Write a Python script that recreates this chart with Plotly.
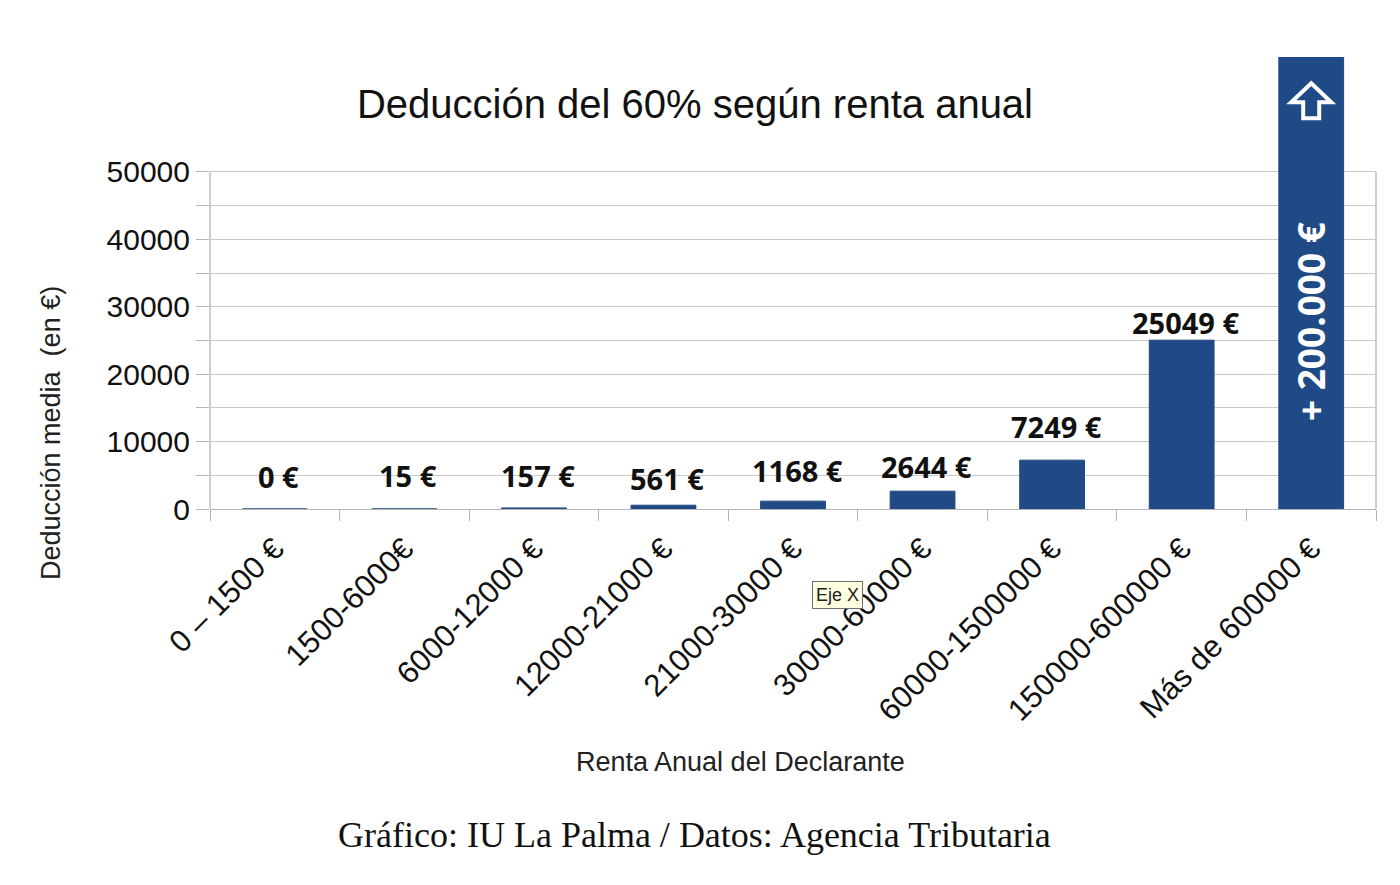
import plotly.graph_objects as go

# ---------------- data ----------------
categories = ["0 – 1500 €", "1500-6000€", "6000-12000 €", "12000-21000 €", "21000-30000 €",
              "30000-60000 €", "60000-1500000 €", "150000-600000 €", "Más de 600000 €"]
deduccion = [0, 15, 157, 561, 1168, 2644, 7249, 25049, 200000]
value_labels = ["0 €", "15 €", "157 €", "561 €", "1168 €", "2644 €", "7249 €", "25049 €", None]
last_label = "+ 200.000 €"
y_tickvals = [0, 10000, 20000, 30000, 40000, 50000]
y_ticktext = [str(v) for v in y_tickvals]
y_minorvals = [5000, 15000, 25000, 35000, 45000]

title_text = "Deducción del 60% según renta anual"
x_title = "Renta Anual del Declarante"
y_title = "Deducción media  (en €)"
footer = "Gráfico: IU La Palma / Datos: Agencia Tributaria"

# ---------------- style ----------------
BAR = "#1F4A86"
GRID = "#C9C9C9"
AXIS = "#B5B5B5"
label_offsets = [33, 33, 32, 27, 31, 25, 34, 18]

fig = go.Figure()
fig.add_trace(go.Bar(
    x=categories, y=deduccion,
    marker=dict(color=BAR, line=dict(color=BAR, width=1)),
    hoverinfo="skip",
))

annotations = []
for cat, val, lab, off in zip(categories, deduccion, value_labels, label_offsets):
    if lab is None:
        continue
    annotations.append(dict(
        x=cat, y=val, xref="x", yref="y", text=lab, showarrow=False,
        xanchor="center", yanchor="middle", yshift=off, xshift=4,
        font=dict(family="Open Sans", size=29, color="#111111", weight="bold"),
    ))

# rotated label inside the last bar
annotations.append(dict(
    x=categories[-1], y=0.414, xref="x", yref="paper", text=last_label, showarrow=False,
    xanchor="center", yanchor="middle",
    textangle=-90, font=dict(family="Open Sans", size=37, color="white", weight="bold"),
))
# axis titles and footer
annotations.append(dict(
    x=(740 - 210) / 1166, y=(509 - 762) / 452, xref="paper", yref="paper", text=x_title,
    showarrow=False, xanchor="center", yanchor="middle",
    font=dict(family="Liberation Sans", size=27, color="#222222"),
))
annotations.append(dict(
    x=(51 - 210) / 1166, y=(509 - 433) / 452, xref="paper", yref="paper", text=y_title,
    showarrow=False, xanchor="center", yanchor="middle",
    textangle=-90, font=dict(family="Liberation Sans", size=27, color="#222222"),
))
annotations.append(dict(
    x=(694 - 210) / 1166, y=(509 - 835) / 452, xref="paper", yref="paper", text=footer,
    showarrow=False, xanchor="center", yanchor="middle",
    font=dict(family="Liberation Serif", size=36, color="#111111"),
))
# tooltip box
annotations.append(dict(
    x=(838 - 210) / 1166, y=(509 - 595) / 452, xref="paper", yref="paper", text="Eje X",
    showarrow=False, xanchor="center", yanchor="middle",
    bgcolor="#FFFFE1", bordercolor="#6E6E6E", borderwidth=1, borderpad=3,
    font=dict(family="Liberation Sans", size=18, color="#222222"),
))

shapes = [
    dict(type="line", xref="x domain", yref="y", x0=0, x1=0, y0=0, y1=y_tickvals[-1],
         line=dict(color=AXIS, width=1.3), layer="below"),
    dict(type="line", xref="x domain", yref="y", x0=1, x1=1, y0=0, y1=y_tickvals[-1],
         line=dict(color=AXIS, width=1.3), layer="below"),
    # up-arrow icon on the last bar (pixel-sized decoration)
    dict(type="path", xref="x", yref="paper", xsizemode="pixel", ysizemode="pixel",
         xanchor=len(categories) - 1, yanchor=0.900,
         path="M 0 19 L 20 0 L 8 0 L 8 -16 L -8 -16 L -8 0 L -20 0 Z",
         line=dict(color="white", width=4), fillcolor=BAR, layer="above"),
]

fig.update_layout(
    width=1400, height=885,
    margin=dict(l=202, r=32, t=49, b=384),
    paper_bgcolor="white", plot_bgcolor="white",
    showlegend=False,
    bargap=0.5,
    title=dict(text=title_text, x=687 / 1400, xanchor="center", y=1 - 96 / 885, yanchor="middle",
               font=dict(family="Liberation Sans", size=40, color="#111111")),
    annotations=annotations,
    shapes=shapes,
    xaxis=dict(
        type="category", tickangle=-45, tickson="boundaries",
        ticks="outside", ticklen=11, tickcolor=AXIS,
        showline=True, linecolor=AXIS, linewidth=1.3,
        showgrid=False, ticklabelstandoff=8,
        tickfont=dict(family="Liberation Sans", size=31, color="#111111"),
    ),
    yaxis=dict(
        range=[0, 67060],
        tickmode="array", tickvals=y_tickvals, ticktext=y_ticktext,
        ticks="outside", ticklen=13, tickcolor=AXIS,
        showgrid=True, gridcolor=GRID, gridwidth=1.3,
        showline=False, zeroline=False,
        tickfont=dict(family="Liberation Sans", size=30, color="#111111"),
        minor=dict(tickmode="array", tickvals=y_minorvals, ticks="outside", ticklen=13,
                   tickcolor=AXIS, showgrid=True, gridcolor=GRID, gridwidth=1.3),
    ),
)

fig.write_html("out.html")
